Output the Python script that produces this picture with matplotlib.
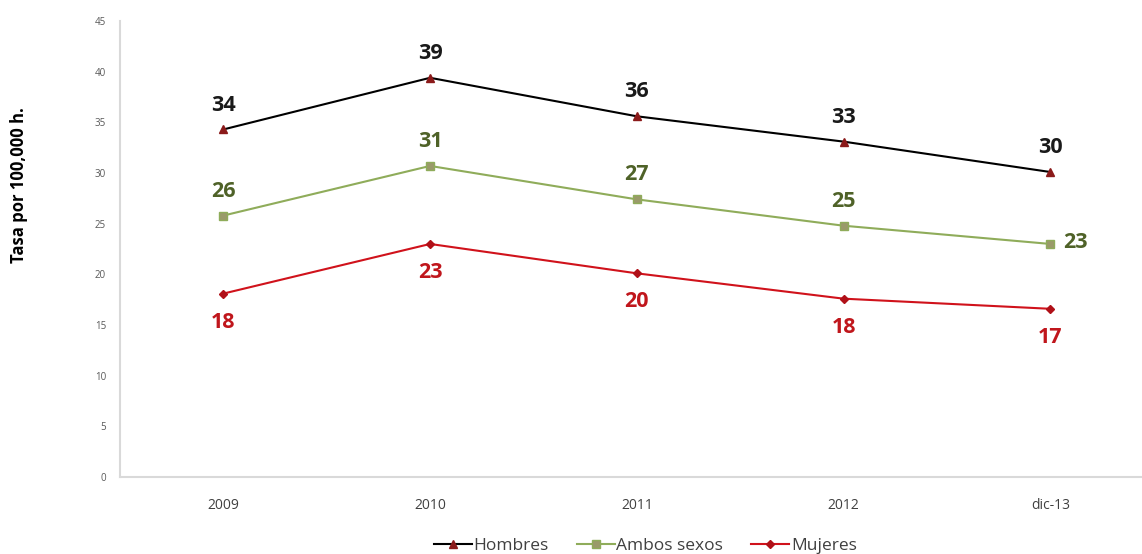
import matplotlib.pyplot as plt

plt.rcParams['font.family'] = ['Open Sans', 'DejaVu Sans']

periodos = ['2009', '2010', '2011', '2012', 'dic-13']
hombres = [34.3, 39.4, 35.6, 33.1, 30.1]
ambos = [25.8, 30.7, 27.4, 24.8, 23.0]
mujeres = [18.1, 23.0, 20.1, 17.6, 16.6]

fig = plt.figure(figsize=(11.42, 5.54), dpi=100)
ax = fig.add_axes([0.105, 0.139, 0.895, 0.823])
x = range(len(periodos))

ax.plot(x, hombres, color='black', lw=1.5, marker='^', ms=6,
        mfc='#8b1a1a', mec='#8b1a1a', label='Hombres')
ax.plot(x, ambos, color='#8fac5a', lw=1.5, marker='s', ms=6,
        mfc='#9a9a6a', mec='#8fac5a', label='Ambos sexos')
ax.plot(x, mujeres, color='#d0121b', lw=1.5, marker='D', ms=4,
        mfc='#b01018', mec='#b01018', label='Mujeres')

# value labels
lbl = dict(textcoords='offset points', fontsize=15.5, fontweight='bold')
for i, v in enumerate(hombres):
    ax.annotate(f'{round(v)}', (i, v), xytext=(0, 10), ha='center', va='bottom',
                color='#1a1a1a', **lbl)
for i, v in enumerate(ambos):
    if i == len(ambos) - 1:
        ax.annotate(f'{round(v)}', (i, v), xytext=(9, 1), ha='left', va='center',
                    color='#4f6228', **lbl)
    else:
        ax.annotate(f'{round(v)}', (i, v), xytext=(0, 10), ha='center', va='bottom',
                    color='#4f6228', **lbl)
for i, v in enumerate(mujeres):
    ax.annotate(f'{round(v)}', (i, v), xytext=(0, -13), ha='center', va='top',
                color='#c0161c', **lbl)

ax.set_xlim(-0.5, 4.443)
ax.set_ylim(0, 45)
ax.set_yticks(range(0, 50, 5))
ax.set_xticks(list(x))
ax.set_xticklabels(periodos)
ax.tick_params(axis='y', length=0, labelsize=7, labelcolor='#595959', pad=10)
ax.tick_params(axis='x', length=0, labelsize=10, labelcolor='#404040', pad=15)
for s in ['top', 'right']:
    ax.spines[s].set_visible(False)
for s in ['left', 'bottom']:
    ax.spines[s].set_color('#d9d9d9')
    ax.spines[s].set_linewidth(1.5)

ax.set_ylabel('Tasa por 100,000 h.', fontsize=12, fontweight='bold')
ax.yaxis.set_label_coords(-0.09, 0.64)

ax.legend(loc='upper center', bbox_to_anchor=(0.514, -0.1), ncol=3, frameon=False,
          fontsize=12.5, handlelength=2.2, handletextpad=0.1, columnspacing=1.6,
          labelcolor='#404040')

fig.savefig('out.png', dpi=100)
